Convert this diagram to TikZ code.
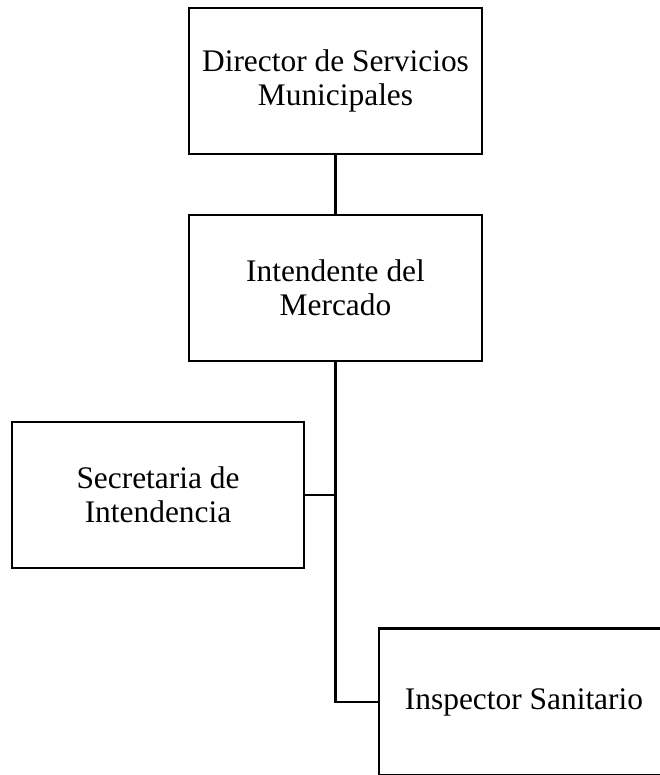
\documentclass[tikz,border=0pt]{standalone}
\usepackage{fontspec}
\setmainfont{Liberation Serif}
\begin{document}
\begin{tikzpicture}[x=1pt,y=-1pt,
  orgbox/.style={draw=black, line width=2.6pt, rectangle, inner sep=0pt, outer sep=0pt,
    minimum width=293pt, minimum height=146pt, align=center,
    font=\fontsize{31.4}{34}\selectfont},
  link/.style={draw=black, line width=2.6pt}]
\useasboundingbox (0,0) rectangle (660,775);
\clip (0,0) rectangle (660,775);
\node[orgbox] (dir) at (335.5,81) {Director de Servicios\\Municipales};
\node[orgbox] (int) at (335.5,288) {Intendente del\\Mercado};
\node[orgbox, minimum width=292pt] (sec) at (158,495) {Secretaria de\\Intendencia};
\node[orgbox, minimum width=290pt, minimum height=147pt] (ins) at (524,702) {Inspector Sanitario};
\coordinate (j1) at (int.south |- sec.east);
\draw[link] (dir.south) -- (int.north);
\draw[link] (int.south) |- (ins.west);
\draw[link] (sec.east) -- (j1);
\end{tikzpicture}
\end{document}
